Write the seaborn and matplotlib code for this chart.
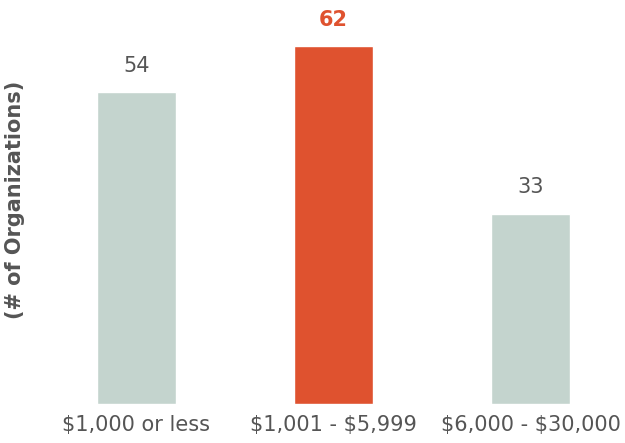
import pandas as pd
import matplotlib.pyplot as plt
import seaborn as sns

categories = ['$1,000 or less', '$1,001 - $5,999', '$6,000 - $30,000']
counts = [54, 62, 33]
colors = ['#C4D4CE', '#DF522F', '#C4D4CE']


def main():
    df = pd.DataFrame({'band': categories, 'count': counts})
    sns.set_style('white')
    plt.rcParams['text.parse_math'] = False

    fig = plt.figure(figsize=(6.25, 4.43), dpi=100)
    ax = fig.add_axes([38 / 625, 39 / 443, 587 / 625, 404 / 443])
    sns.barplot(data=df, x='band', y='count', hue='band', palette=colors,
                width=0.4, legend=False, ax=ax, saturation=1)

    ax.set_xlim(-0.5, -0.5 + 587 / 197)
    ax.set_ylim(0, 70)
    for s in ax.spines.values():
        s.set_visible(False)
    ax.set_yticks([])
    ax.set_xlabel('')
    ax.set_ylabel('')
    ax.tick_params(axis='x', length=0, pad=8, labelsize=15, labelcolor='#555555')

    for i, v in enumerate(counts):
        best = v == max(counts)
        ax.text(i, v + 2.8, str(v), ha='center', va='bottom', fontsize=15,
                color='#DF522F' if best else '#555555',
                fontweight='bold' if best else 'normal')

    fig.text(15 / 625, 1 - 200 / 443, '(# of Organizations)', rotation=90,
             ha='center', va='center', fontsize=15, fontweight='bold', color='#555555')

    fig.savefig('out.png', dpi=100)
    plt.close()


if __name__ == '__main__':
    main()
